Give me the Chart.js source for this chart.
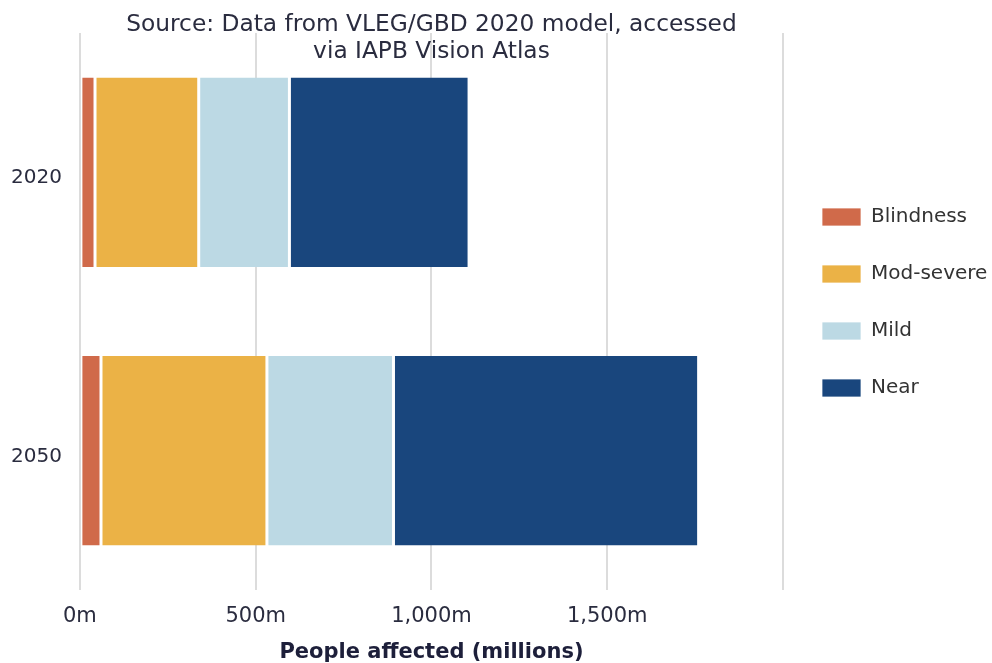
<!DOCTYPE html>
<html>
<head>
<meta charset="utf-8">
<script src="https://cdn.jsdelivr.net/npm/chart.js@4.4.1/dist/chart.umd.min.js"></script>
<style>
  html, body { margin: 0; padding: 0; background: #fff; }
  #wrap { width: 992px; height: 663px; }
</style>
</head>
<body>
<div id="wrap"><canvas id="chart"></canvas></div>
<script>
const years = ['2020', '2050'];
const blindness = [43, 60];
const modSevere = [295, 472];
const mild = [258, 360];
const near = [511, 868];
const titleLines = ['Source: Data from VLEG/GBD 2020 model, accessed', 'via IAPB Vision Atlas'];

const FONT = "'DejaVu Sans', Verdana, sans-serif";
const TEXT = '#2a2c3f';

// source note sits over the top of the plot, centred on it
const sourceTitle = {
  id: 'sourceTitle',
  afterDraw(chart) {
    const { ctx, chartArea } = chart;
    const cx = (chartArea.left + chartArea.right) / 2;
    ctx.save();
    ctx.font = `23.3px ${FONT}`;
    ctx.fillStyle = TEXT;
    ctx.textAlign = 'center';
    ctx.textBaseline = 'middle';
    titleLines.forEach((line, i) => ctx.fillText(line, cx, 25 + i * 27));
    ctx.restore();
  }
};

// move the legend column a little up and right of its default slot
const legendNudge = {
  id: 'legendNudge',
  afterLayout(chart) {
    const lg = chart.legend;
    lg.top -= 9;
    lg.bottom -= 9;
    lg.left += 2;
    lg.right += 2;
  }
};

const seg = (label, data, color) => ({
  label,
  data,
  backgroundColor: color,
  borderColor: '#ffffff',
  borderWidth: { left: 1.5, right: 1.5, top: 0, bottom: 0 },
  borderSkipped: false,
  barPercentage: 0.68,
  categoryPercentage: 1,
});

new Chart(document.getElementById('chart'), {
  type: 'bar',
  data: {
    labels: years,
    datasets: [
      seg('Blindness', blindness, '#d06a4a'),
      seg('Mod-severe', modSevere, '#ebb246'),
      seg('Mild', mild, '#bcd9e4'),
      seg('Near', near, '#19467d'),
    ],
  },
  plugins: [sourceTitle, legendNudge],
  options: {
    indexAxis: 'y',
    responsive: true,
    maintainAspectRatio: false,
    animation: false,
    layout: { padding: { top: 33, left: 2, right: 0, bottom: 0 } },
    plugins: {
      tooltip: { enabled: false },
      legend: {
        position: 'right',
        fullSize: false,
        align: 'center',
        maxWidth: 209,
        labels: {
          boxWidth: 39,
          boxHeight: 18,
          padding: 37,
          color: '#333333',
          font: { family: FONT, size: 20 },
        },
      },
    },
    scales: {
      x: {
        stacked: true,
        min: 0,
        max: 2000,
        ticks: {
          stepSize: 500,
          padding: 16,
          color: TEXT,
          font: { family: FONT, size: 21, lineHeight: 1 },
          callback: v => v === 2000 ? '' : v.toLocaleString('en-US') + 'm',
        },
        grid: { color: '#dcdcdc', lineWidth: 2, drawTicks: false },
        border: { display: false },
        title: {
          display: true,
          text: 'People affected (millions)',
          color: '#1d1f3a',
          font: { family: FONT, size: 21, weight: 'bold', lineHeight: 0.6 },
          padding: { top: 3.4, bottom: 4 },
        },
      },
      y: {
        stacked: true,
        grid: { display: false, drawTicks: true, tickLength: 9 },
        border: { display: false },
        ticks: {
          padding: 9,
          labelOffset: 6,
          color: TEXT,
          font: { family: FONT, size: 20 },
        },
      },
    },
  },
});
</script>
</body>
</html>
